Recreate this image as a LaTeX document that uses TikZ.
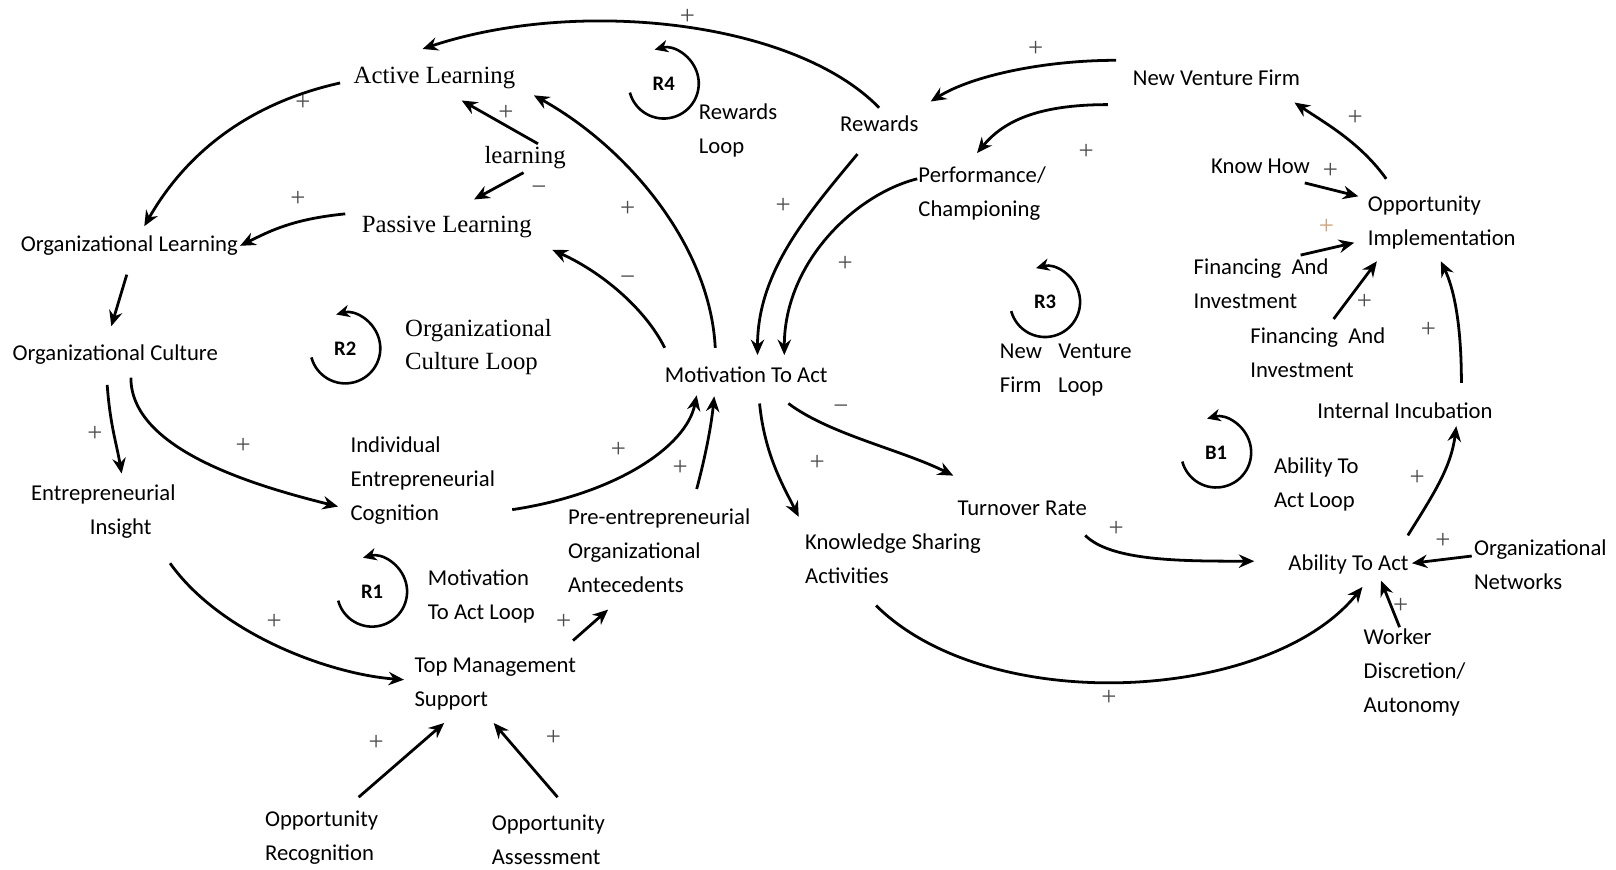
\documentclass[tikz,border=0pt]{standalone}
\usepackage{fontspec}
\setmainfont{Carlito}
\newfontfamily\serifx{Liberation Serif}
\usetikzlibrary{arrows.meta}
\begin{document}
\begin{tikzpicture}[x=1pt,y=-1pt,
  lbl/.style={inner sep=0pt,anchor=west,align=left,yshift=-1.5pt,font=\fontsize{22}{33}\selectfont},
  slbl/.style={inner sep=0pt,anchor=west,align=left,yshift=-2.5pt,font=\serifx\fontsize{24}{32}\selectfont},
  sgn/.style={inner sep=0pt,font=\serifx\fontsize{26}{26}\selectfont,text=black!70},
  arr/.style={line width=2.7pt,-{Stealth[length=15pt,width=13pt,inset=5pt]}},
  loopname/.style={inner sep=0pt,font=\bfseries\fontsize{20}{20}\selectfont},
  looparr/.style={line width=2.5pt,-{Stealth[length=13pt,width=12pt,inset=4pt]}}
]
\useasboundingbox (0,0) rectangle (1568,844);

% ---------- nodes ----------
\node[slbl] (al) at (343,73) {Active Learning};
\node[slbl] (lr) at (470,150) {learning};
\node[slbl] (pl) at (351,218) {Passive Learning};
\node[lbl] (ol) at (20,237) {Organizational Learning};
\node[lbl] (oc) at (12,343) {Organizational Culture};
\node[slbl] (ocl) at (393,334) {Organizational\\Culture Loop};
\node[lbl] (mta) at (645,362) {Motivation To Act};
\node[lbl] (ei) at (30,494.5) {Entrepreneurial\\\hspace*{57pt}Insight};
\node[lbl] (iec) at (340,465) {Individual\\Entrepreneurial\\Cognition};
\node[lbl] (pe) at (551,533) {Pre-entrepreneurial\\Organizational\\Antecedents};
\node[lbl] (r1l) at (415,577.5) {Motivation\\To Act Loop};
\node[lbl] (tms) at (402,662.5) {Top Management\\Support};
\node[lbl] (orc) at (257,811) {Opportunity\\Recognition};
\node[lbl] (oa) at (477,813) {Opportunity\\Assessment};
\node[lbl] (rwl) at (678,125.5) {Rewards\\Loop};
\node[lbl] (rew) at (815,119) {Rewards};
\node[lbl] (nvf) at (1099,74) {New Venture Firm};
\node[lbl] (pc) at (891,186.5) {Performance/\\Championing};
\node[lbl] (kh) at (1175,160) {Know How};
\node[lbl] (oi) at (1327,214.5) {Opportunity\\Implementation};
\node[lbl] (fi1) at (1158,273.5) {Financing\hspace{10pt}And\\Investment};
\node[lbl] (fi2) at (1213,340.5) {Financing\hspace{10pt}And\\Investment};
\node[lbl] (nvl) at (970,357.5) {New\hspace{16pt}Venture\\Firm\hspace{16pt}Loop};
\node[lbl] (ii) at (1278,397) {Internal Incubation};
\node[lbl] (b1l) at (1236,468.5) {Ability To\\Act Loop};
\node[lbl] (tr) at (929,492) {Turnover Rate};
\node[lbl] (ks) at (781,540.5) {Knowledge Sharing\\Activities};
\node[lbl] (ata) at (1250,546) {Ability To Act};
\node[lbl] (on) at (1430,546.5) {Organizational\\Networks};
\node[lbl] (wd) at (1323,651) {Worker\\Discretion/\\Autonomy};

% loop names
\node[loopname] (r4) at (644,81) {R4};
\node[loopname] (r2) at (335,338) {R2};
\node[loopname] (r1) at (361,574) {R1};
\node[loopname] (r3) at (1014,293) {R3};
\node[loopname] (b1) at (1180,439) {B1};

\begin{scope}[x=1pt,y=1pt]
\foreach \n in {r4,r2,r1,r3,b1}
  \draw[looparr] ([shift={(195:34)}]\n.center) arc[start angle=195,end angle=465,radius=34];
\end{scope}

% ---------- connectors ----------
\draw[arr] ([shift={(38,-16)}]rew.west) .. controls +(-83,-85) and +(150,-50) .. ([shift={(67,-28)}]al.west);
\draw[arr] ([shift={(-16,-17)}]nvf.west) .. controls +(-70,0) and +(40,-25) .. ([shift={(88,-22)}]rew.west);
\draw[arr] ([shift={(-24,26)}]nvf.west) .. controls +(-70,0) and +(25,-30) .. ([shift={(57,-39.5)}]pc.west);
\draw[arr] ([shift={(17,29)}]rew.west) .. controls +(-50,60) and +(0,-80) .. ([shift={(90,-19)}]mta.west);
\draw[arr] ([shift={(-1,-14.5)}]pc.west) .. controls +(-60,15) and +(0,-90) .. ([shift={(116,-19)}]mta.west);
\draw[arr] ([shift={(49,-26)}]mta.west) .. controls +(-5,-100) and +(90,50) .. ([shift={(175,17)}]al.west);
\draw[arr] ([shift={(0,-26)}]mta.west) .. controls +(-20,-40) and +(45,20) .. ([shift={(185,22)}]pl.west);
\draw[arr] ([shift={(52,-13)}]lr.west) -- ([shift={(105,22)}]al.west);
\draw[arr] ([shift={(38,15)}]lr.west) -- ([shift={(109,-27)}]pl.west);
\draw[arr] ([shift={(-13,5)}]al.west) .. controls +(-90,20) and +(40,-70) .. ([shift={(120,-19)}]ol.west);
\draw[arr] ([shift={(-16,-13)}]pl.west) .. controls +(-50,5) and +(30,-15) .. ([shift={(213,0)}]ol.west);
\draw[arr] ([shift={(103,28)}]ol.west) -- ([shift={(96,-28)}]oc.west);
\draw[arr] ([shift={(92,29)}]oc.west) .. controls +(3,40) and +(-5,-30) .. ([shift={(88,-36.5)}]ei.west);
\draw[arr] ([shift={(115,22)}]oc.west) .. controls +(0,70) and +(-80,-20) .. ([shift={(-12,25)}]iec.west);
\draw[arr] ([shift={(157,28)}]iec.west) .. controls +(100,-15) and +(-10,50) .. ([shift={(31,20)}]mta.west);
\draw[arr] ([shift={(125,-60)}]pe.west) .. controls +(8,-30) and +(-3,30) .. ([shift={(48,21)}]mta.west);
\draw[arr] ([shift={(135,50.5)}]ei.west) .. controls +(50,70) and +(-70,-5) .. ([shift={(-10,-4.5)}]tms.west);
\draw[arr] ([shift={(154,-42.5)}]tms.west) -- ([shift={(39,57)}]pe.west);
\draw[arr] ([shift={(91,-39)}]orc.west) -- ([shift={(29,37.5)}]tms.west);
\draw[arr] ([shift={(64,-41)}]oa.west) -- ([shift={(77,37.5)}]tms.west);
\draw[arr] ([shift={(92,28)}]mta.west) .. controls +(5,50) and +(-15,-30) .. ([shift={(-6,-40.5)}]ks.west);
\draw[arr] ([shift={(120,28)}]mta.west) .. controls +(40,30) and +(-50,-25) .. ([shift={(-4,-32)}]tr.west);
\draw[arr] ([shift={(124,26)}]tr.west) .. controls +(25,25) and +(-70,0) .. ([shift={(-33,-3)}]ata.west);
\draw[arr] ([shift={(69,45.5)}]ks.west) .. controls +(110,109) and +(-90,112) .. ([shift={(72,22)}]ata.west);
\draw[arr] ([shift={(-2,-8.5)}]on.west) -- ([shift={(120,-1)}]ata.west);
\draw[arr] ([shift={(35,-44)}]wd.west) -- ([shift={(90,16)}]ata.west);
\draw[arr] ([shift={(116,-28)}]ata.west) .. controls +(25,-40) and +(-5,40) .. ([shift={(135,15)}]ii.west);
\draw[arr] ([shift={(140,-27)}]ii.west) .. controls +(0,-60) and +(12,25) .. ([shift={(71,37.5)}]oi.west);
\draw[arr] ([shift={(81,-32.5)}]fi2.west) -- ([shift={(9,37.5)}]oi.west);
\draw[arr] ([shift={(104,-27.5)}]fi1.west) -- ([shift={(-13,19.5)}]oi.west);
\draw[arr] ([shift={(91,16)}]kh.west) -- ([shift={(-9,-25.5)}]oi.west);
\draw[arr] ([shift={(18,-42.5)}]oi.west) .. controls +(-25,-35) and +(30,20) .. ([shift={(157,24)}]nvf.west);

% ---------- polarity signs ----------
\node[sgn] (s1) at (667,16) {+};
\node[sgn] (s2) at (1005,47) {+};
\node[sgn] (s3) at (1054,147) {+};
\node[sgn] (s4) at (760,200) {+};
\node[sgn] (s5) at (820,256) {+};
\node[sgn] (s6) at (609,203) {+};
\node[sgn] (s7) at (609,272) {−};
\node[sgn] (s8) at (491,110) {+};
\node[sgn] (s9) at (523,185) {−};
\node[sgn] (s10) at (294,100) {+};
\node[sgn] (s11) at (289,193) {+};
\node[sgn] (s12) at (92,421) {+};
\node[sgn] (s13) at (236,433) {+};
\node[sgn] (s14) at (600,437) {+};
\node[sgn] (s15) at (660,454) {+};
\node[sgn] (s16) at (266,603) {+};
\node[sgn] (s17) at (547,603) {+};
\node[sgn] (s18) at (365,721) {+};
\node[sgn] (s19) at (537,716) {+};
\node[sgn] (s20) at (793,449) {+};
\node[sgn] (s21) at (816,398) {−};
\node[sgn] (s22) at (1083,513) {+};
\node[sgn] (s23) at (1076,677) {+};
\node[sgn] (s24) at (1400,525) {+};
\node[sgn] (s25) at (1359,588) {+};
\node[sgn] (s26) at (1375,464) {+};
\node[sgn] (s27) at (1386,320) {+};
\node[sgn] (s28) at (1324,293) {+};
\node[sgn,text={rgb,255:red,205;green,160;blue,120}] (s29) at (1287,220) {+};
\node[sgn] (s30) at (1291,166) {+};
\node[sgn] (s31) at (1315,114) {+};
\end{tikzpicture}
\end{document}
